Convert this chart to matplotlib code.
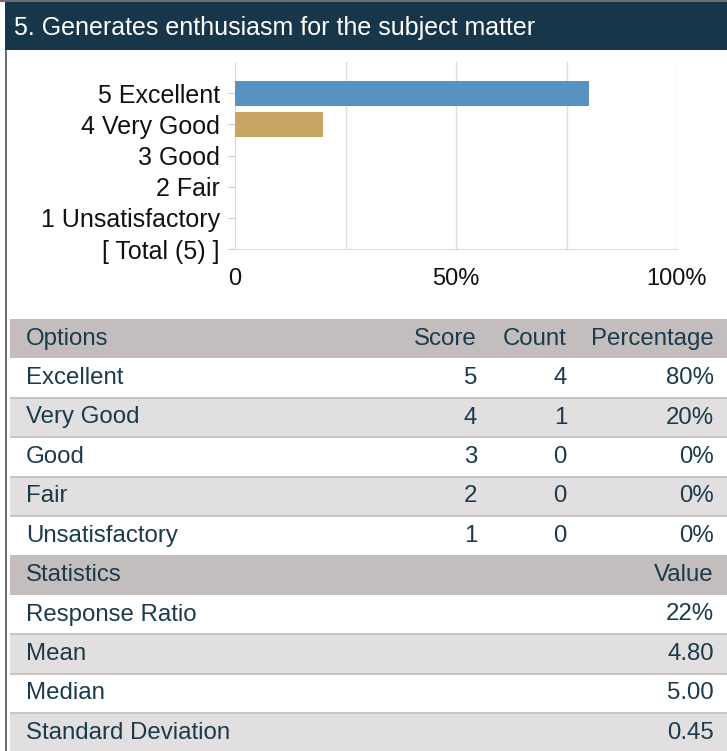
import matplotlib
matplotlib.use("Agg")
import matplotlib.pyplot as plt
from matplotlib.patches import Rectangle

plt.rcParams['font.family'] = ['Liberation Sans', 'DejaVu Sans']

# data
title = "5. Generates enthusiasm for the subject matter"
bar_labels = ['5 Excellent', '4 Very Good', '3 Good', '2 Fair', '1 Unsatisfactory', '[ Total (5) ]']
bar_pct = [80, 20, 0, 0, 0, 0]
bar_colors = ['#5892c0', '#c9a564', '#5892c0', '#5892c0', '#5892c0', '#5892c0']

options = ['Excellent', 'Very Good', 'Good', 'Fair', 'Unsatisfactory']
scores = [5, 4, 3, 2, 1]
counts = [4, 1, 0, 0, 0]
percentages = ['80%', '20%', '0%', '0%', '0%']

stat_names = ['Response Ratio', 'Mean', 'Median', 'Standard Deviation']
stat_values = ['22%', '4.80', '5.00', '0.45']

W, H = 727, 751
txt = '#1b3a4b'
hdr_gray = '#c3bdbd'
row_gray = '#e1dfdf'
sep = '#c8c4c4'

fig = plt.figure(figsize=(W / 100, H / 100), dpi=100)

# background layer in pixel coords
bg = fig.add_axes([0, 0, 1, 1])
bg.set_xlim(0, W)
bg.set_ylim(H, 0)
bg.axis('off')

bg.add_patch(Rectangle((0, 0), W, 2, color='#6e6e6e', lw=0))
bg.add_patch(Rectangle((5, 2), W - 5, 48, color='#17364a', lw=0))
bg.add_patch(Rectangle((5, 50), 2, H - 50, color='#6e6e6e', lw=0))
bg.text(14, 28, title, color='white', fontsize=18, va='center', ha='left')

# table
top = 319
rh = 39.4
x0 = 10
rows = []
rows.append(('head', ['Options', 'Score', 'Count', 'Percentage']))
for o, s, c, p in zip(options, scores, counts, percentages):
    rows.append(('opt', [o, str(s), str(c), p]))
rows.append(('head', ['Statistics', '', '', 'Value']))
for n, v in zip(stat_names, stat_values):
    rows.append(('stat', [n, '', '', v]))

k = 0
for i, (kind, cells) in enumerate(rows):
    y = top + i * rh
    if kind == 'head':
        fc = hdr_gray
        k = 0
    else:
        fc = 'white' if k % 2 == 0 else row_gray
        k += 1
    bg.add_patch(Rectangle((x0, y), W - x0, rh, color=fc, lw=0))
    if kind != 'head' and i > 0 and rows[i - 1][0] != 'head':
        bg.add_patch(Rectangle((x0, y - 1), W - x0, 2, color=sep, lw=0))
    yc = y + rh / 2
    bg.text(26, yc, cells[0], color=txt, fontsize=17.3, va='center', ha='left')
    if cells[1]:
        bg.text(477, yc, cells[1], color=txt, fontsize=17.3, va='center', ha='right')
    if cells[2]:
        bg.text(567, yc, cells[2], color=txt, fontsize=17.3, va='center', ha='right')
    bg.text(714, yc, cells[3], color=txt, fontsize=17.3, va='center', ha='right')

# bar chart
ax = fig.add_axes([235 / W, 1 - 249 / H, (677 - 235) / W, (249 - 62) / H])
ypos = list(range(len(bar_labels)))
ax.barh(ypos, bar_pct, height=0.8, color=bar_colors, zorder=3)
ax.set_xlim(0, 100)
ax.set_ylim(len(bar_labels) - 1, -1)
ax.set_yticks(ypos)
ax.set_yticklabels(bar_labels, fontsize=18, color='#111111')
ax.set_xticks([0, 25, 50, 75, 100])
ax.set_xticklabels(['0', '', '50%', '', '100%'], fontsize=17, color='#111111')
ax.grid(axis='x', color='#dddddd', lw=1, zorder=0)
for s in ['top', 'right', 'left']:
    ax.spines[s].set_visible(False)
ax.spines['bottom'].set_color('#dddddd')
ax.tick_params(axis='y', length=5, color='#cccccc', pad=6)
ax.tick_params(axis='x', length=0, pad=14)
ax.set_facecolor('none')

fig.savefig('out.png', dpi=100)
